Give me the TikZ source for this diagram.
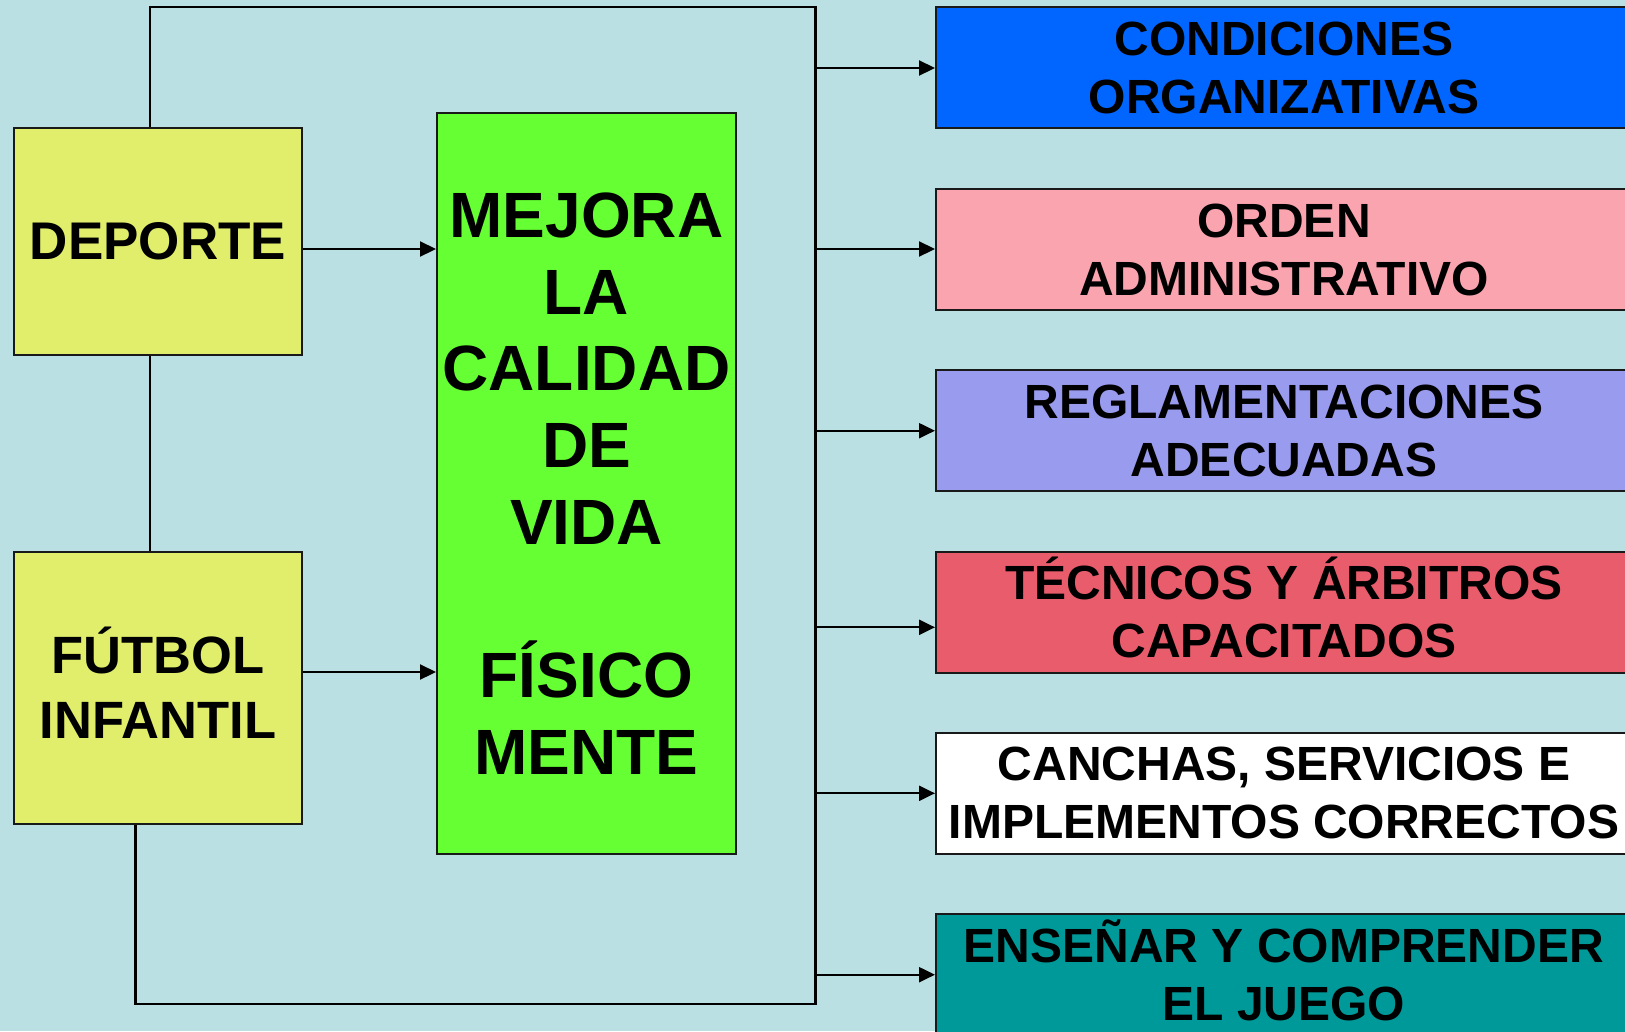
\documentclass[tikz,border=0pt]{standalone}
\usepackage{fontspec}
\setmainfont{Liberation Sans}
\usetikzlibrary{arrows.meta}
\definecolor{bgc}{RGB}{187,224,227}
\definecolor{yel}{RGB}{225,238,107}
\definecolor{grn}{RGB}{102,255,51}
\definecolor{blu}{RGB}{0,102,255}
\definecolor{pnk}{RGB}{250,164,176}
\definecolor{lav}{RGB}{153,155,238}
\definecolor{rdd}{RGB}{232,92,108}
\definecolor{tea}{RGB}{0,153,153}
\definecolor{edge}{RGB}{25,25,25}
\begin{document}
\begin{tikzpicture}[x=1pt,y=-1pt,
  box/.style={rectangle, draw=edge, line width=2pt, inner sep=0pt, align=center},
  leftbox/.style={box, fill=yel, minimum width=288pt},
  rightbox/.style={box, minimum width=696pt, minimum height=121pt,
    font=\fontsize{48pt}{58pt}\selectfont\bfseries},
  conn/.style={line width=2.2pt, draw=black},
  arr/.style={conn, -{Triangle[length=16pt,width=15pt]}}]
\useasboundingbox (0,0) rectangle (1625,1031);
\clip (0,0) rectangle (1625,1031);
\fill[bgc] (0,0) rectangle (1625,1031);

% left boxes
\node[leftbox, minimum height=227pt, font=\fontsize{53pt}{64pt}\selectfont\bfseries] (dep) at (158,241.5) {DEPORTE};
\node[leftbox, minimum height=272pt, font=\fontsize{52.5pt}{65pt}\selectfont\bfseries] (fut) at (158,688) {F\smash{Ú}TBOL\\INFANTIL};

% central box
\node[box, fill=grn, minimum width=299pt, minimum height=741pt,
  font=\fontsize{64pt}{76.7pt}\selectfont\bfseries] (mej) at (586.5,483.5)
  {MEJORA\\LA\\CALIDAD\\DE\\VIDA\\\mbox{}\\FÍSICO\\MENTE};

% right boxes
\node[rightbox, fill=blu] (r1) at (1284,67.8) {CONDICIONES\\ORGANIZATIVAS};
\node[rightbox, fill=pnk] (r2) at (1284,249.5) {ORDEN\\ADMINISTRATIVO};
\node[rightbox, fill=lav] (r3) at (1284,430.5) {REGLAMENTACIONES\\ADECUADAS};
\node[rightbox, fill=rdd] (r4) at (1284,612.2) {T\smash{É}CNICOS Y \smash{Á}RBITROS\\CAPACITADOS};
\node[rightbox, fill=white] (r5) at (1284,793.2) {CANCHAS, SERVICIOS E\\IMPLEMENTOS CORRECTOS};
\node[rightbox, fill=tea] (r6) at (1284,974.5) {ENSE\smash{Ñ}AR Y COMPRENDER\\EL JUEGO};

% frame of connectors
\coordinate (tl) at (150,7);
\coordinate (tr) at (815.5,7);
\coordinate (br) at (815.5,1004);
\coordinate (bl) at (135.5,1004);
\draw[conn] (dep.north -| tl) -- (tl) -- (tr) -- (br) -- (bl) -- (fut.south -| bl);
\draw[conn] (dep.south -| tl) -- (fut.north -| tl);

% left arrows
\coordinate (a1) at (302,249);
\coordinate (a2) at (302,672);
\draw[arr] (dep.east |- a1) -- (mej.west |- a1);
\draw[arr] (fut.east |- a2) -- (mej.west |- a2);

% right arrows
\coordinate (v1) at (815.5,68);
\coordinate (v2) at (815.5,249);
\coordinate (v3) at (815.5,430.7);
\coordinate (v4) at (815.5,627.3);
\coordinate (v5) at (815.5,793.3);
\coordinate (v6) at (815.5,974.7);
\foreach \i in {1,...,6} {\draw[arr] (v\i) -- (v\i -| r\i.west);}
\end{tikzpicture}
\end{document}
